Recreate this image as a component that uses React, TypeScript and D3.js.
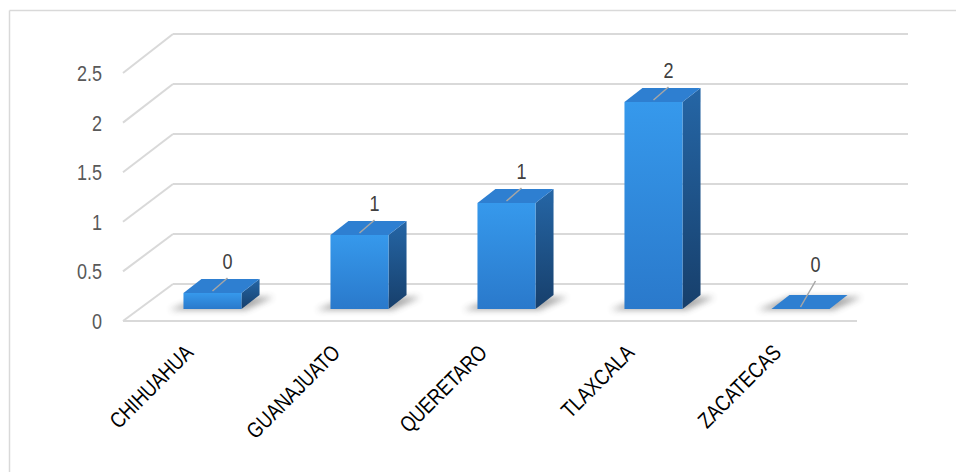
import React from 'react';
import * as d3 from 'd3';

const categories = ['CHIHUAHUA', 'GUANAJUATO', 'QUERETARO', 'TLAXCALA', 'ZACATECAS'];
const values = [0.16, 0.74, 1.06, 2.07, 0];
const yTicks = [0, 0.5, 1, 1.5, 2, 2.5];

const FONT = "'Liberation Sans Narrow', 'Arial Narrow', 'Liberation Sans', Arial, sans-serif";
const NARROW = 0.82;

export default function App() {
  const W = 956, H = 472;
  const x = d3.scaleBand<string>().domain(categories).range([139, 874]).paddingInner(0.605).paddingOuter(0.3025);
  const yFront = d3.scaleLinear().domain([0, 2.5]).range([321, 73]);
  const yBack = d3.scaleLinear().domain([0, 2.5]).range([284, 34]);
  const yBar = d3.scaleLinear().domain([0, 2.5]).range([309, 59]);
  const wallLeftFront = 123, wallLeftBack = 173, wallRightBack = 908, floorRightFront = 857;
  const dx = 18, dy = -14;
  const fmt = d3.format('.0f');
  const base = yBar(0);

  return (
    <svg width={W} height={H} style={{ position: 'absolute', left: 0, top: 0, background: '#fff' }}>
      <defs>
        <linearGradient id="gFront" x1="0" y1="0" x2="0" y2="1">
          <stop offset="0" stopColor="#3699ec" />
          <stop offset="1" stopColor="#2a79cb" />
        </linearGradient>
        <linearGradient id="gSide" x1="0" y1="0" x2="0" y2="1">
          <stop offset="0" stopColor="#2566a6" />
          <stop offset="1" stopColor="#173f6b" />
        </linearGradient>
        <filter id="blur" x="-50%" y="-50%" width="200%" height="200%">
          <feGaussianBlur stdDeviation="3" />
        </filter>
      </defs>
      {/* outer frame */}
      <line x1={9.5} y1={10.5} x2={W} y2={10.5} stroke="#d9d9d9" strokeWidth={1.5} />
      <line x1={9.5} y1={10.5} x2={9.5} y2={H} stroke="#d9d9d9" strokeWidth={1.5} />

      {/* gridlines */}
      {yTicks.map((t) => (
        <g key={t}>
          <line x1={wallLeftFront} y1={yFront(t)} x2={wallLeftBack} y2={yBack(t)} stroke="#d9d9d9" strokeWidth={2} />
          <line x1={wallLeftBack} y1={yBack(t)} x2={wallRightBack} y2={yBack(t)} stroke="#d9d9d9" strokeWidth={2} />
          <text transform={`translate(102,${yFront(t)}) scale(${NARROW},1)`} dy="0.36em" textAnchor="end" fontFamily={FONT} fontSize={22} fill="#595959">{t}</text>
        </g>
      ))}
      <line x1={wallLeftFront} y1={yFront(0)} x2={floorRightFront} y2={yFront(0)} stroke="#d9d9d9" strokeWidth={2} />

      {/* bars */}
      {categories.map((c, i) => {
        const v = values[i];
        const x0 = x(c)!;
        const x1 = x0 + x.bandwidth();
        const top = yBar(v);
        const cx = (x0 + x1) / 2;
        const shadow = `M${x0 - 14},${base + 1} L${x1 + 4},${base + 1} L${x1 + dx + 14},${base + dy + 2} L${x0 + dx},${base + dy + 2} Z`;
        const topFace = `M${x0},${top} L${x1},${top} L${x1 + dx},${top + dy} L${x0 + dx},${top + dy} Z`;
        const side = `M${x1},${top} L${x1 + dx},${top + dy} L${x1 + dx},${base + dy} L${x1},${base} Z`;
        const labelY = Math.min(top - 24, base - 37);
        return (
          <g key={c}>
            <path d={shadow} fill="#404040" opacity={0.45} filter="url(#blur)" />
            {v > 0 && <path d={side} fill="url(#gSide)" />}
            {v > 0 && <rect x={x0} y={top} width={x1 - x0} height={base - top} fill="url(#gFront)" />}
            <path d={topFace} fill="#2e7fd1" />
            <line x1={cx} y1={top - 2} x2={cx + 15} y2={labelY + 9} stroke="#a6a6a6" strokeWidth={1.5} />
            <text transform={`translate(${cx + 15},${labelY}) scale(${NARROW},1)`} textAnchor="middle" fontFamily={FONT} fontSize={22} fill="#404040">{fmt(v)}</text>
            <text transform={`translate(${cx - 18},354) rotate(-45) scale(${NARROW},1)`} textAnchor="end" fontFamily={FONT} fontSize={22} fill="#000">{c}</text>
          </g>
        );
      })}
    </svg>
  );
}
